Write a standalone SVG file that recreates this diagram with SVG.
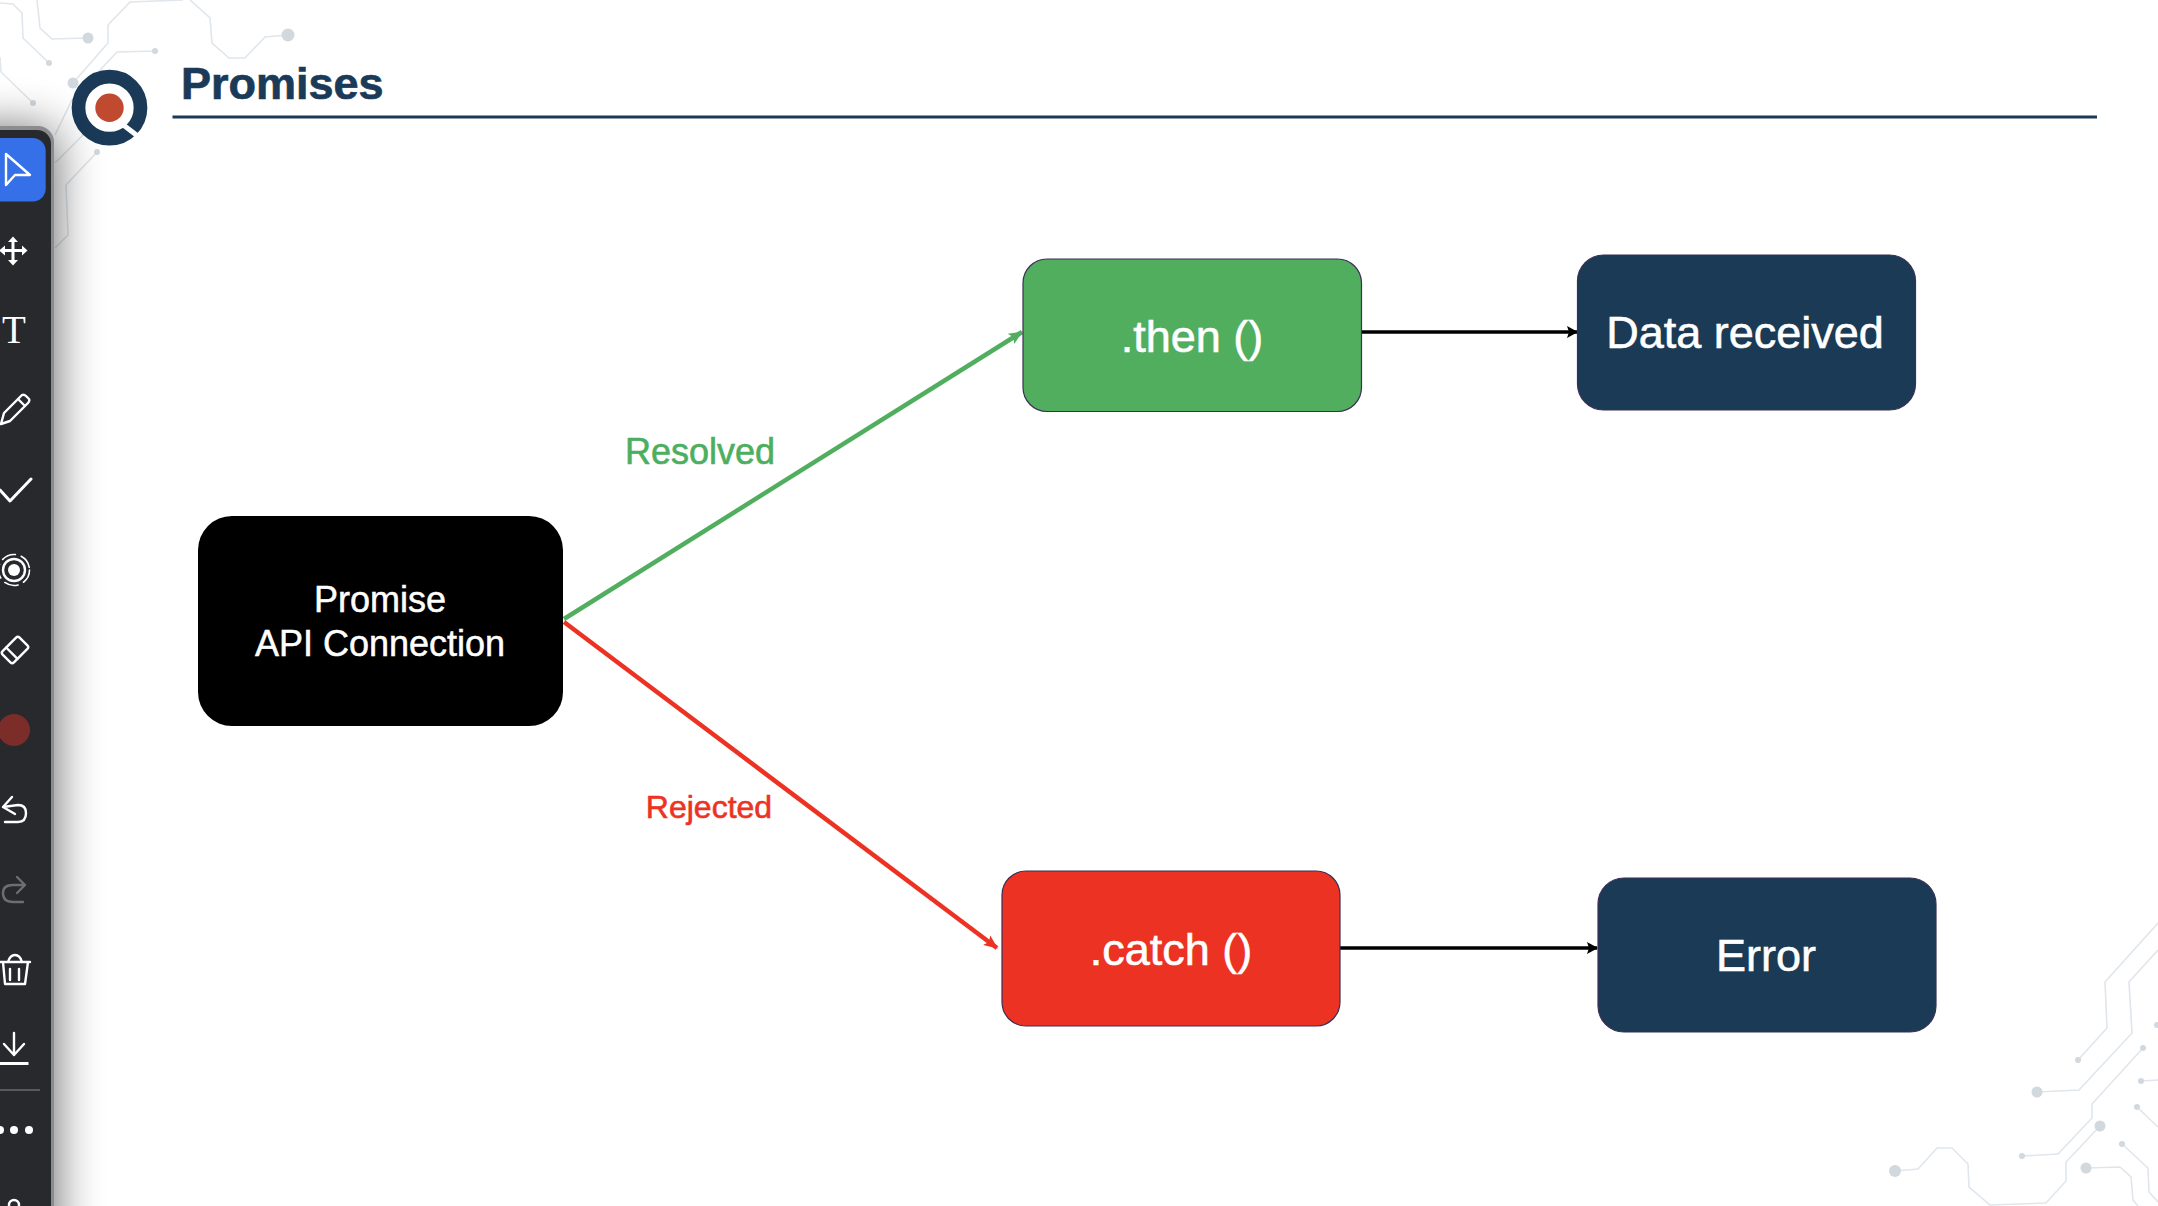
<svg xmlns="http://www.w3.org/2000/svg" width="2158" height="1206" viewBox="0 0 2158 1206">
<style>
text{font-family:"Liberation Sans",Arial,sans-serif}
.tr{fill:none;stroke:#e0e6eb;stroke-width:1.6}
.dot{fill:#d1d8de}
.box{stroke:#3b2f55;stroke-width:1.2}
.lbl{fill:#fff;stroke:#fff;stroke-width:.6;font-size:45px;text-anchor:middle}
.lbl2{fill:#fff;stroke:#fff;stroke-width:.5;font-size:36px;text-anchor:middle}
.ic{fill:none;stroke:#fff;stroke-width:2.4;stroke-linecap:round;stroke-linejoin:round}
</style>
<defs>
<filter id="blur" x="-200%" y="-20%" width="500%" height="140%"><feGaussianBlur stdDeviation="24"/></filter>
<marker id="ag" markerUnits="userSpaceOnUse" markerWidth="14" markerHeight="12" refX="13" refY="6" orient="auto"><path d="M0 0L14 6L0 12L3 6Z" fill="#52ae5f"/></marker>
<marker id="ar" markerUnits="userSpaceOnUse" markerWidth="14" markerHeight="12" refX="13" refY="6" orient="auto"><path d="M0 0L14 6L0 12L3 6Z" fill="#ec3323"/></marker>
<marker id="ak" markerUnits="userSpaceOnUse" markerWidth="11" markerHeight="12" refX="10" refY="6" orient="auto"><path d="M0 0L11 6L0 12L2 6Z" fill="#000"/></marker>
</defs>
<rect width="2158" height="1206" fill="#fff"/>
<g id="circuits">
<path class="tr" d="M0 3L13 4L22 13L23 38L49 63"/>
<path class="tr" d="M37 0L40 28L52 39L88 38"/>
<path class="tr" d="M0 57L1 72L33 103"/>
<path class="tr" d="M183 0L130 2L108 25L108 43L73 83"/>
<path class="tr" d="M155 51L117 52L72 100L55 135"/>
<path class="tr" d="M190 0L210 18L212 43L229 58L245 58L265 37L288 35"/>
<path class="tr" d="M97 152L66 185L68 235L55 248"/>
<path class="tr" d="M55 163L85 133L85 119L130 118"/>
<circle class="dot" cx="49" cy="63" r="3"/><circle class="dot" cx="88" cy="38" r="5.5"/><circle class="dot" cx="33" cy="103" r="3"/><circle class="dot" cx="73" cy="83" r="5.5"/><circle class="dot" cx="155" cy="51" r="3"/><circle class="dot" cx="288" cy="35" r="6.5"/><circle class="dot" cx="97" cy="152" r="3"/>
<path class="tr" d="M2158 923L2105 982L2107 1028L2078 1060"/>
<path class="tr" d="M2158 950L2129 982L2132 1033L2079 1090L2037 1092"/>
<path class="tr" d="M2143 1048L2092 1104L2092 1118L2058 1154L2022 1156"/>
<path class="tr" d="M2100 1126L2066 1162L2066 1181L2046 1203L1990 1205L1969 1187L1968 1164L1952 1148L1937 1148L1918 1169L1895 1171"/>
<path class="tr" d="M2086 1168L2120 1167L2131 1177L2133 1200L2138 1206"/>
<path class="tr" d="M2122 1144L2148 1168L2149 1192L2158 1202"/>
<path class="tr" d="M2141 1081L2158 1080"/>
<path class="tr" d="M2137 1107L2158 1127"/>
<circle class="dot" cx="2078" cy="1060" r="3"/><circle class="dot" cx="2037" cy="1092" r="5.5"/><circle class="dot" cx="2143" cy="1048" r="3"/><circle class="dot" cx="2022" cy="1156" r="3"/><circle class="dot" cx="2100" cy="1126" r="5.5"/><circle class="dot" cx="1895" cy="1171" r="6"/><circle class="dot" cx="2086" cy="1168" r="5.5"/><circle class="dot" cx="2122" cy="1144" r="3"/><circle class="dot" cx="2141" cy="1081" r="3"/><circle class="dot" cx="2137" cy="1107" r="3"/><circle class="dot" cx="2157" cy="1025" r="3"/>
</g>
<g id="header">
<circle cx="109.5" cy="107.7" r="31" fill="#fff" stroke="#1a3a58" stroke-width="13.700"/>
<circle cx="109.5" cy="107.7" r="14.2" fill="#c04a30"/>
<path d="M122 124L139 137" stroke="#fff" stroke-width="5" fill="none"/>
<text x="181" y="99" font-size="45" font-weight="700" fill="#1a3a58" stroke="#1a3a58" stroke-width=".7">Promises</text>
<rect x="172.500" y="115.500" width="1924.500" height="3" fill="#1a3a58"/>
</g>
<g id="connectors" fill="none">
<path d="M564 619L1022 332" stroke="#52ae5f" stroke-width="4.500" marker-end="url(#ag)"/>
<path d="M564 622L997 948" stroke="#ec3323" stroke-width="4.500" marker-end="url(#ar)"/>
<path d="M1361 332L1577 332" stroke="#000" stroke-width="3.500" marker-end="url(#ak)"/>
<path d="M1340 948L1597 948" stroke="#000" stroke-width="3.500" marker-end="url(#ak)"/>
</g>
<g id="label-resolved"><text x="700" y="464" font-size="36" text-anchor="middle" fill="#4caf5f" stroke="#4caf5f" stroke-width=".6">Resolved</text></g>
<g id="label-rejected"><text x="709" y="818" font-size="32" text-anchor="middle" fill="#ec3323" stroke="#ec3323" stroke-width=".6">Rejected</text></g>
<g id="node-promise"><rect x="198" y="516" width="365" height="210" rx="34" fill="#000"/><text class="lbl2" x="380" y="611.500">Promise</text><text class="lbl2" x="380" y="655.500">API Connection</text></g>
<g id="node-then"><rect class="box" x="1023" y="259" width="338.500" height="152.500" rx="24" fill="#52ae5f"/><text class="lbl" x="1192" y="352">.then ()</text></g>
<g id="node-data"><rect class="box" x="1577.500" y="255" width="338" height="155" rx="26" fill="#1a3a55"/><text class="lbl" x="1745" y="348">Data received</text></g>
<g id="node-catch"><rect class="box" x="1002" y="871" width="338" height="155" rx="24" fill="#ec3323"/><text class="lbl" x="1171" y="965">.catch ()</text></g>
<g id="node-error"><rect class="box" x="1598" y="878" width="338" height="154" rx="26" fill="#1a3a55"/><text class="lbl" x="1766" y="971">Error</text></g>
<g id="toolbar">
<rect x="-60" y="130" width="114" height="1140" fill="#000" opacity=".62" filter="url(#blur)"/>
<rect x="-30" y="126" width="84" height="1110" rx="16" fill="#8b8c8e"/>
<rect x="-30" y="130" width="81" height="1110" rx="14" fill="#27292d"/>
<rect x="-30" y="138" width="75.700" height="63.500" rx="13" fill="#3570e8"/>
<path class="ic" d="M6 154L30 175L15 175L6 185Z"/>
<g fill="#fff"><rect x="3" y="249" width="20" height="3"/><rect x="11.500" y="240" width="3" height="21"/><path d="M13 236.500L18 242H8ZM13 265.500L18 260H8ZM-1 250.500L5 245.500V255.500ZM27.500 250.500L22 245.500V255.500Z"/></g>
<text x="14" y="343" font-size="39" fill="#fff" text-anchor="middle" style="font-family:'Liberation Serif',serif">T</text>
<path class="ic" d="M1 424L4 413L22 395Q24 394 26 396L29 399Q30 401 28 403L10 421ZM18 399L25 406"/>
<path class="ic" d="M0 490L10 501L31 479" style="stroke-width:3"/>
<circle cx="14" cy="570" r="6" fill="#fff"/><circle class="ic" cx="14" cy="570" r="11"/>
<circle class="ic" cx="14" cy="570" r="15.500" stroke-dasharray="14 6" style="stroke-width:1.600"/>
<g transform="rotate(-45 15 650)"><rect class="ic" x="3" y="642" width="24" height="16" rx="2.500"/><path class="ic" d="M10.500 642V658"/></g>
<circle cx="14" cy="730" r="16" fill="#7c2d2a"/>
<path class="ic" d="M12 797L3 807L15 814M3 807L18 805Q26 805 26 813Q26 822 18 822L5 822"/>
<path d="M17 877L25 885L17 893M25 885H13Q3 885 3 893Q3 902 13 902H23" fill="none" stroke="#6d6e70" stroke-width="2.400" stroke-linecap="round" stroke-linejoin="round"/>
<path class="ic" d="M0 962H30M3 962L5 984H25L28 962M8 962Q10 955 15 955Q20 955 22 962M10 969V980M19 969V980"/>
<path class="ic" d="M14 1033V1055M4 1044L14 1055L24 1044"/>
<rect x="0" y="1062" width="28.500" height="3" fill="#fff"/>
<rect x="0" y="1089.200" width="40" height="1.600" fill="#666"/>
<circle cx="0" cy="1130" r="4" fill="#fff"/><circle cx="14" cy="1130" r="4" fill="#fff"/><circle cx="29" cy="1130" r="4" fill="#fff"/>
<circle class="ic" cx="14" cy="1205" r="5"/>
</g>
</svg>
